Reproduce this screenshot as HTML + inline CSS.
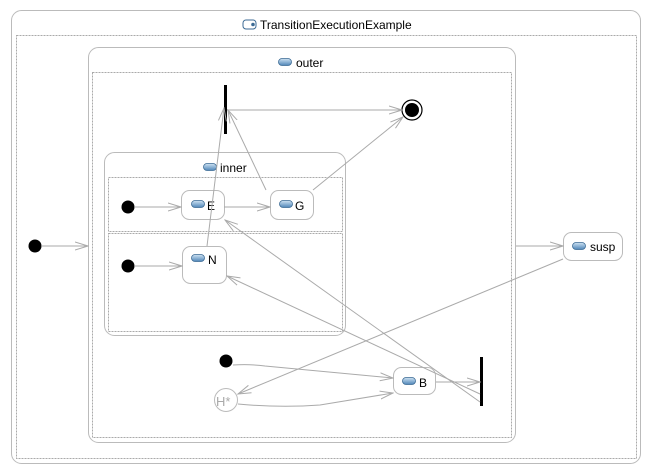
<!DOCTYPE html>
<html><head><meta charset="utf-8"><style>
html,body{margin:0;padding:0;background:#fff}
svg{display:block}
text{font-family:"Liberation Sans","DejaVu Sans",sans-serif;font-size:12px;fill:#000}
</style></head><body>
<svg width="652" height="474" viewBox="0 0 652 474" xmlns="http://www.w3.org/2000/svg">
<defs>
<linearGradient id="ic" x1="0" y1="0" x2="0" y2="1"><stop offset="0" stop-color="#cfe3f3"/><stop offset="1" stop-color="#4f86b8"/></linearGradient>
<marker id="a" markerWidth="14" markerHeight="10" refX="13" refY="5" orient="auto" markerUnits="userSpaceOnUse"><path d="M0,1 L13,5 L0,9" fill="none" stroke="#aaa" stroke-width="1"/></marker>
<symbol id="icon" viewBox="0 0 14 8"><rect x="0.5" y="0.5" width="13" height="7" rx="3.5" fill="url(#ic)" stroke="#3b6a94" stroke-width="0.8"/></symbol>
</defs>
<!-- outer frame -->
<rect x="11.5" y="10.5" width="629" height="453" rx="10" fill="#fff" stroke="#bbb"/>
<rect x="16.5" y="35.5" width="620" height="423" fill="none" stroke="#aaa" stroke-dasharray="2,1"/>
<rect x="243" y="20" width="13" height="9" rx="3" fill="#fff" stroke="#3b6a94"/><circle cx="253" cy="24.5" r="1.8" fill="#3b6a94"/>
<text x="260" y="29">TransitionExecutionExample</text>
<!-- outer -->
<rect x="88.5" y="47.5" width="427" height="395" rx="10" fill="#fff" stroke="#bbb"/>
<rect x="92.5" y="72.5" width="419" height="365" fill="none" stroke="#aaa" stroke-dasharray="2,1"/>
<use href="#icon" x="278" y="58" width="14" height="8"/>
<text x="296" y="67">outer</text>
<!-- inner -->
<rect x="104.5" y="152.5" width="241" height="183" rx="10" fill="#fff" stroke="#bbb"/>
<rect x="108.5" y="177.5" width="234" height="54" fill="none" stroke="#aaa" stroke-dasharray="2,1"/>
<rect x="108.5" y="233.5" width="234" height="98" fill="none" stroke="#aaa" stroke-dasharray="2,1"/>
<use href="#icon" x="203" y="163" width="14" height="8"/>
<text x="220" y="172">inner</text>
<!-- states -->
<rect x="181.5" y="190.5" width="43" height="29" rx="8" fill="#fff" stroke="#bbb"/>
<use href="#icon" x="191" y="200" width="14" height="8"/><text x="207" y="210">E</text>
<rect x="270.5" y="190.5" width="43" height="29" rx="8" fill="#fff" stroke="#bbb"/>
<use href="#icon" x="279" y="200" width="14" height="8"/><text x="295" y="210">G</text>
<rect x="182.5" y="246.5" width="44" height="37" rx="8" fill="#fff" stroke="#bbb"/>
<use href="#icon" x="191" y="254" width="14" height="8"/><text x="208" y="264">N</text>
<rect x="393.5" y="367.5" width="42" height="27" rx="8" fill="#fff" stroke="#bbb"/>
<use href="#icon" x="402" y="377" width="14" height="8"/><text x="419" y="387">B</text>
<rect x="563.5" y="232.5" width="59" height="28" rx="8" fill="#fff" stroke="#bbb"/>
<use href="#icon" x="572" y="242" width="14" height="8"/><text x="590" y="251">susp</text>
<!-- pseudo states -->
<circle cx="35" cy="246" r="6.5" fill="#000"/>
<circle cx="128" cy="207" r="6.5" fill="#000"/>
<circle cx="128" cy="266" r="6.5" fill="#000"/>
<circle cx="226" cy="361" r="6.5" fill="#000"/>
<circle cx="412" cy="110" r="10" fill="#fff" stroke="#000" stroke-width="1.2"/><circle cx="412" cy="110" r="7" fill="#000"/>
<circle cx="226" cy="400" r="11.5" fill="#fff" stroke="#bbb"/>
<text x="216" y="406" style="fill:#aaa;font-size:13px">H*</text>
<rect x="224" y="85" width="3" height="49" fill="#000"/>
<rect x="480" y="357" width="3" height="49" fill="#000"/>
<!-- transitions -->
<g stroke="#aaa" fill="none" stroke-width="1">
<path d="M42,246 L88,246" marker-end="url(#a)"/>
<path d="M516,246 L563,246" marker-end="url(#a)"/>
<path d="M135,207 L181,207" marker-end="url(#a)"/>
<path d="M224,207 L270,207" marker-end="url(#a)"/>
<path d="M135,266 L182,266" marker-end="url(#a)"/>
<path d="M207,246 L224,108" marker-end="url(#a)"/>
<path d="M266,190 L228,110" marker-end="url(#a)"/>
<path d="M227,110 L402,110" marker-end="url(#a)"/>
<path d="M313,190 L403,117" marker-end="url(#a)"/>
<path d="M480,402 L225,220" marker-end="url(#a)"/>
<path d="M480,394 L227,276" marker-end="url(#a)"/>
<path d="M436,382 L480,382" marker-end="url(#a)"/>
<path d="M563,259 L238,394" marker-end="url(#a)"/>
<path d="M233,365 Q250,364 265,366 L393,378" marker-end="url(#a)"/>
<path d="M238,404 Q280,408 320,405 L393,393" marker-end="url(#a)"/>
</g>
</svg>
</body></html>
